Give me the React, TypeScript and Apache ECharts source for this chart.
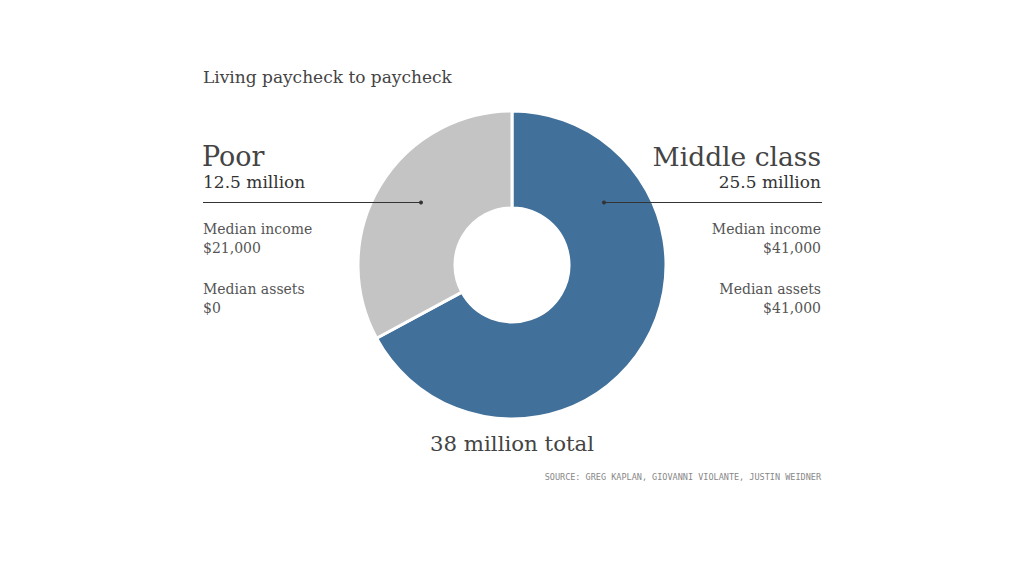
import React, { useEffect, useRef } from "react";
import * as echarts from "echarts";

const categories = ["Middle class", "Poor"];
const values = [25.5, 12.5];
const colors = ["#41709A", "#C4C4C4"];
const countLabels = ["25.5 million", "12.5 million"];
const incomeLabels = ["$41,000", "$21,000"];
const assetLabels = ["$41,000", "$0"];
const title = "Living paycheck to paycheck";
const totalLabel = "38 million total";
const source = "SOURCE: GREG KAPLAN, GIOVANNI VIOLANTE, JUSTIN WEIDNER";

const SERIF = "'DejaVu Serif', 'Liberation Serif', serif";

export default function App() {
  const ref = useRef<HTMLDivElement>(null);
  useEffect(() => {
    if (!ref.current) return;
    const chart = echarts.init(ref.current, null, { renderer: "svg" });
    const txt = (x: number, y: number, text: string, size: number, color: string, align: string, font = SERIF) => ({
      type: "text",
      x,
      y,
      z: 100,
      style: { text, fontSize: size, fill: color, fontFamily: font, align, verticalAlign: "middle" },
    });
    const graphic: any[] = [
      txt(203, 77, title, 17, "#444", "left"),
      // Poor (left)
      txt(202, 156, categories[1], 27, "#444", "left"),
      txt(203, 182, countLabels[1], 17, "#333", "left"),
      { type: "line", z: 100, shape: { x1: 203, y1: 202.5, x2: 421, y2: 202.5 }, style: { stroke: "#333", lineWidth: 1 } },
      { type: "circle", z: 101, shape: { cx: 421, cy: 202.5, r: 2 }, style: { fill: "#333" } },
      txt(203, 229, "Median income", 14, "#555", "left"),
      txt(203, 248, incomeLabels[1], 14, "#555", "left"),
      txt(203, 289, "Median assets", 14, "#555", "left"),
      txt(203, 308, assetLabels[1], 14, "#555", "left"),
      // Middle class (right)
      txt(821, 156, categories[0], 26.5, "#444", "right"),
      txt(821, 182, countLabels[0], 17, "#333", "right"),
      { type: "line", z: 100, shape: { x1: 604, y1: 202.5, x2: 822, y2: 202.5 }, style: { stroke: "#333", lineWidth: 1 } },
      { type: "circle", z: 101, shape: { cx: 604, cy: 202.5, r: 2 }, style: { fill: "#333" } },
      txt(821, 229, "Median income", 14, "#555", "right"),
      txt(821, 248, incomeLabels[0], 14, "#555", "right"),
      txt(821, 289, "Median assets", 14, "#555", "right"),
      txt(821, 308, assetLabels[0], 14, "#555", "right"),
      txt(512, 443, totalLabel, 21.3, "#444", "center"),
      txt(821, 477, source, 8.5, "#888", "right", "'DejaVu Sans Mono', monospace"),
    ];
    chart.setOption({
      animation: false,
      backgroundColor: "#fff",
      series: [
        {
          type: "pie",
          center: [512, 265],
          radius: [57, 154],
          startAngle: 90,
          clockwise: true,
          label: { show: false },
          labelLine: { show: false },
          silent: true,
          itemStyle: { borderColor: "#fff", borderWidth: 3 },
          data: categories.map((c, i) => ({ name: c, value: values[i], itemStyle: { color: colors[i] } })),
        },
      ],
      graphic,
    });
    return () => chart.dispose();
  }, []);
  return <div ref={ref} style={{ position: "fixed", left: 0, top: 0, width: 1024, height: 576 }} />;
}
